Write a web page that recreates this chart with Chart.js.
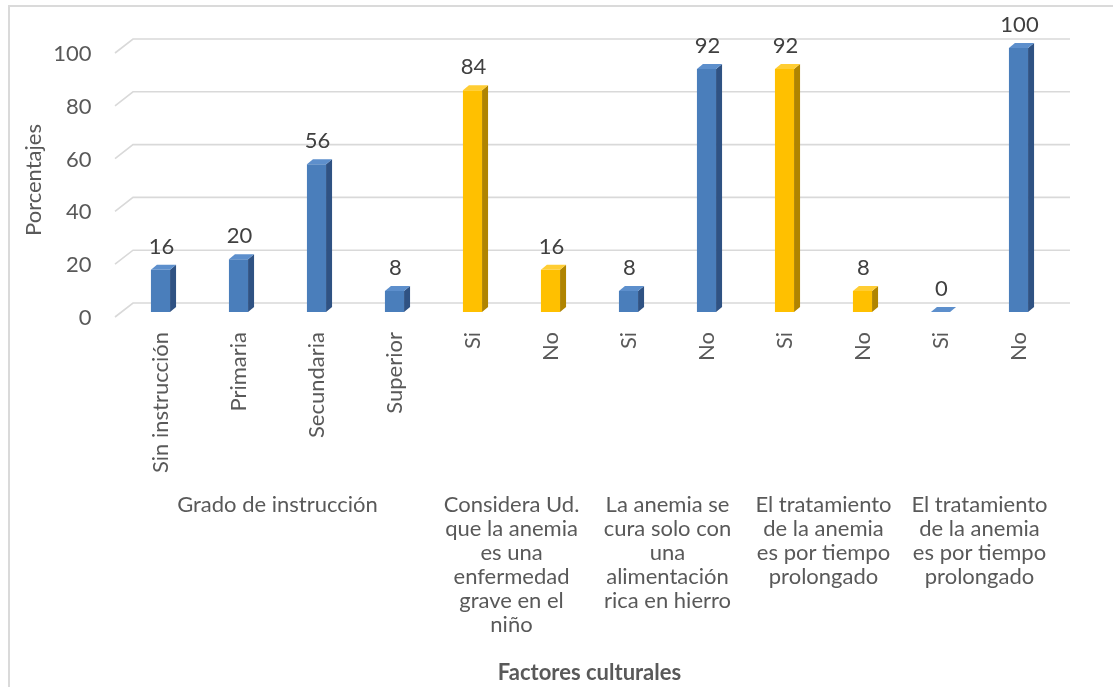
<!DOCTYPE html>
<html lang="es">
<head>
<meta charset="utf-8">
<title>Factores culturales</title>
<script src="https://cdn.jsdelivr.net/npm/chart.js@4.4.1/dist/chart.umd.min.js"></script>
<style>
  html, body { margin:0; padding:0; background:#fff; }
  #wrap { position:relative; width:1113px; height:687px; overflow:hidden; }
  #marco { position:absolute; left:8px; top:5px; width:1300px; height:900px;
           border-left:2px solid #dadada; border-top:2px solid #dadada; }
  #grafico { position:absolute; left:0; top:0; }
</style>
</head>
<body>
<div id="wrap">
  <div id="marco"></div>
  <canvas id="grafico" width="1113" height="687"></canvas>
</div>
<script>
// ---------- DADOS ----------
const categorias = ['Sin instrucción','Primaria','Secundaria','Superior','Si','No','Si','No','Si','No','Si','No'];
const porcentajes = [16, 20, 56, 8, 84, 16, 8, 92, 92, 8, 0, 100];
// grupo de cada barra (0..4)
const grupoDeBarra = [0, 0, 0, 0, 1, 1, 2, 2, 3, 3, 4, 4];
const grupos = [
  ['Grado de instrucción'],
  ['Considera Ud.', 'que la anemia', 'es una', 'enfermedad', 'grave en el', 'niño'],
  ['La anemia se', 'cura solo con', 'una', 'alimentación', 'rica en hierro'],
  ['El tratamiento', 'de la anemia', 'es por tiempo', 'prolongado'],
  ['El tratamiento', 'de la anemia', 'es por tiempo', 'prolongado']
];
const ticksY = [0, 20, 40, 60, 80, 100];
const tituloY = 'Porcentajes';
const tituloX = 'Factores culturales';

// ---------- Estilo ----------
const FONTE = 'Lato, "Open Sans", sans-serif';
const COR_TEXTO = '#595959';
const paleta = {
  azul:    { frente:'#4a7ebb', lado:'#2f5283', topo:'#5d8fcc' },
  amarelo: { frente:'#ffc000', lado:'#b08400', topo:'#ffcd33' }
};
const corDoGrupo = g => (g === 1 || g === 3) ? paleta.amarelo : paleta.azul;
const coresBarras = grupoDeBarra.map(corDoGrupo);

// rótulo de grupo fica no índice central do grupo (deslocado meia categoria)
const etiquetasGrupo = categorias.map(() => '');
grupos.forEach((txt, g) => {
  const idx = grupoDeBarra.map((gg, i) => gg === g ? i : -1).filter(i => i >= 0);
  etiquetasGrupo[idx[0] + Math.floor((idx.length - 1) / 2)] = txt;
});

const DX = 6, DY = -5; // profundidade 3D

// ---------- Plugins ----------
const grade3D = {
  id: 'grade3D',
  beforeDatasetsDraw(chart){
    const {ctx, chartArea:a, scales:{y}} = chart;
    ctx.save();
    ctx.strokeStyle = '#d9d9d9';
    ctx.lineWidth = 1.6;
    ticksY.forEach(v => {
      const p = y.getPixelForValue(v);
      ctx.beginPath();
      ctx.moveTo(a.left - 6.5, p + 5);
      ctx.lineTo(a.left + 11.5, p - 9);
      ctx.lineTo(a.right + 12.5, p - 9);
      ctx.stroke();
    });
    ctx.restore();
  }
};

const barras3D = {
  id: 'barras3D',
  afterDatasetsDraw(chart){
    const {ctx} = chart;
    const meta = chart.getDatasetMeta(0);
    ctx.save();
    meta.data.forEach((bar, i) => {
      const c = coresBarras[i];
      const w = bar.width, xl = bar.x - w / 2, xr = bar.x + w / 2;
      const top = bar.y, base = bar.base;
      // lado direito
      ctx.fillStyle = c.lado;
      ctx.beginPath();
      ctx.moveTo(xr, top); ctx.lineTo(xr + DX, top + DY);
      ctx.lineTo(xr + DX, base + DY); ctx.lineTo(xr, base);
      ctx.closePath(); ctx.fill();
      // topo
      ctx.fillStyle = c.topo;
      ctx.beginPath();
      ctx.moveTo(xl, top); ctx.lineTo(xl + DX, top + DY);
      ctx.lineTo(xr + DX, top + DY); ctx.lineTo(xr, top);
      ctx.closePath(); ctx.fill();
      // valor
      ctx.fillStyle = '#404040';
      ctx.font = '22px ' + FONTE;
      ctx.textAlign = 'center';
      ctx.textBaseline = 'middle';
      ctx.fillText(String(porcentajes[i]), bar.x + 1, top - 23);
    });
    ctx.restore();
  }
};

// ---------- Gráfico ----------
new Chart(document.getElementById('grafico'), {
  type: 'bar',
  data: {
    labels: categorias,
    datasets: [{
      data: porcentajes,
      backgroundColor: coresBarras.map(c => c.frente),
      borderWidth: 0,
      categoryPercentage: 1,
      barPercentage: 0.245
    }]
  },
  options: {
    responsive: false,
    animation: false,
    events: [],
    layout: { padding: { top: 48, left: 10, right: 55.5, bottom: 0 } },
    plugins: { legend: { display: false }, tooltip: { enabled: false } },
    scales: {
      x: {
        position: 'bottom',
        grid: { display: false, drawTicks: false },
        border: { display: false },
        ticks: {
          autoSkip: false, minRotation: 90, maxRotation: 90, padding: 20,
          color: COR_TEXTO, font: { family: FONTE, size: 22 }
        },
        afterFit: s => { s.height = 178; }
      },
      xGrupo: {
        type: 'category',
        position: 'bottom',
        labels: etiquetasGrupo,
        offset: true,
        grid: { display: false, drawTicks: false },
        border: { display: false },
        ticks: {
          autoSkip: false, maxRotation: 0, minRotation: 0, padding: 3,
          labelOffset: 39,
          color: COR_TEXTO, font: { family: FONTE, size: 22, lineHeight: '24px' }
        },
        title: {
          display: true, text: tituloX, color: COR_TEXTO,
          font: { family: FONTE, size: 22, weight: 'bold', lineHeight: 1.2 },
          padding: { top: 0, bottom: 1 }
        },
        afterFit: s => { s.height = 197; }
      },
      y: {
        min: 0, max: 100,
        grid: { display: false, drawTicks: false },
        border: { display: false },
        ticks: {
          stepSize: 20, padding: 30, labelOffset: 6,
          color: COR_TEXTO, font: { family: FONTE, size: 22 }
        },
        title: {
          display: true, text: tituloY, color: COR_TEXTO,
          font: { family: FONTE, size: 22, lineHeight: 1.2 },
          padding: { top: 11, bottom: 0 }
        },
        afterFit: s => { s.width = 111.5; }
      }
    }
  },
  plugins: [grade3D, barras3D]
});
</script>
</body>
</html>
